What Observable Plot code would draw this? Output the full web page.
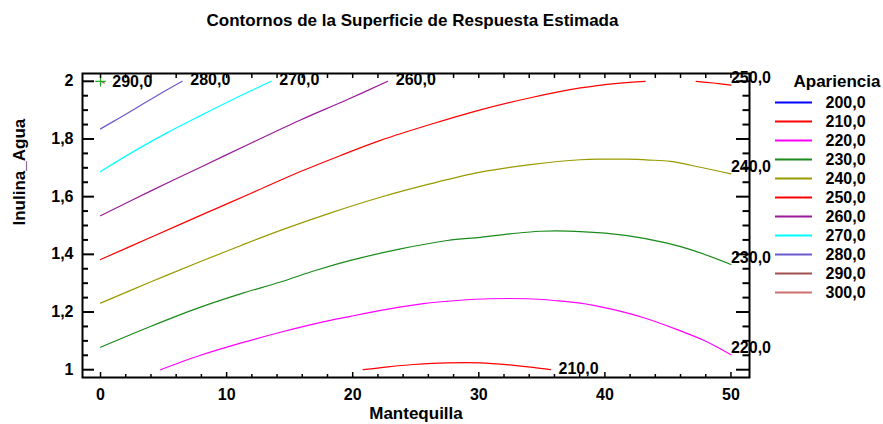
<!DOCTYPE html>
<html><head><meta charset="utf-8">
<script src="https://cdn.jsdelivr.net/npm/d3@7"></script>
<script src="https://cdn.jsdelivr.net/npm/@observablehq/plot@0.6"></script>
<style>
body{margin:0;background:#fff;}
#wrap{position:relative;width:883px;height:424px;font-family:"Liberation Sans",Arial,sans-serif;}
#legend{position:absolute;left:770px;top:70px;width:113px;height:240px;}
</style></head><body><div id="wrap"><div id="main"></div><div id="legend"></div></div>
<script>
// ---- data ----
const xTicks = [0, 10, 20, 30, 40, 50];
const xMinor = [2, 4, 6, 8, 12, 14, 16, 18, 22, 24, 26, 28, 32, 34, 36, 38, 42, 44, 46, 48];
const yTicks = [1, 1.2, 1.4, 1.6, 1.8, 2];
const yMinor = [1.05, 1.1, 1.15, 1.25, 1.3, 1.35, 1.45, 1.5, 1.55, 1.65, 1.7, 1.75, 1.85, 1.9, 1.95];
const legendLevels = [200, 210, 220, 230, 240, 250, 260, 270, 280, 290, 300];
const levelColors = ["#0000ff", "#ff0000", "#ff00ff", "#1a8a1a", "#999900", "#ff0000", "#9a1a9a", "#00ffff", "#6a5acd", "#a05050", "#cc7070"];

const c210 = [[20.83,1.0],[22.8,1.010],[24.85,1.018],[27.5,1.024],[30.13,1.024],[32.77,1.015],[34.3,1.008],[35.69,1.0]];
const c220 = [[4.76,1.0],[7.93,1.050],[11.1,1.092],[14.27,1.130],[17.05,1.160],[19.83,1.185],[22.7,1.209],[25.6,1.229],[28.3,1.240],[30.93,1.246],[33.84,1.246],[36,1.240],[38.06,1.231],[40.6,1.209],[43.09,1.180],[45.73,1.139],[47.84,1.102],[50,1.052]];
const c230 = [[0,1.078],[3.96,1.150],[7.93,1.217],[11.1,1.263],[14.27,1.304],[17.1,1.345],[19.83,1.379],[23.7,1.418],[27.5,1.448],[30.13,1.459],[32.5,1.471],[34.9,1.480],[38.06,1.479],[41.77,1.465],[44.94,1.439],[47.05,1.413],[50,1.365]];
const c240 = [[0,1.231],[3.96,1.304],[7.93,1.375],[11.1,1.430],[14.27,1.483],[18.2,1.543],[22.2,1.598],[26.2,1.645],[30.13,1.685],[34.1,1.711],[38.06,1.728],[39.9,1.730],[41.77,1.730],[43.5,1.727],[45.2,1.722],[47.58,1.702],[50,1.679]];
const c250a = [[0,1.382],[4,1.459],[7.93,1.535],[11.9,1.611],[15.86,1.687],[19,1.742],[22.2,1.795],[26.2,1.851],[30.13,1.901],[34.1,1.943],[38.06,1.977],[41,1.993],[43.2,2.0]];
const c250b = [[47.24,2.0],[48.6,1.994],[50,1.987]];
const c260 = [[0,1.534],[4,1.620],[7.93,1.702],[12,1.787],[15.86,1.866],[19.5,1.935],[22.78,2.0]];
const c270 = [[0,1.687],[2.64,1.757],[5.3,1.822],[7.93,1.881],[10.5,1.937],[13.54,2.0]];
const c280 = [[0,1.835],[1.5,1.873],[3,1.912],[4.5,1.951],[6.48,2.0]];
const c290 = [[0,2.0],[0.3,1.994]];
const optimo = [[0, 2.0]];

const curvas = [
  {nivel: 210, pts: c210}, {nivel: 220, pts: c220}, {nivel: 230, pts: c230},
  {nivel: 240, pts: c240}, {nivel: 250, pts: c250a}, {nivel: 250, pts: c250b},
  {nivel: 260, pts: c260}, {nivel: 270, pts: c270}, {nivel: 280, pts: c280},
  {nivel: 290, pts: c290}
];

// ---- helpers ----
const colorOf = lv => levelColors[legendLevels.indexOf(lv)];
const fmtLevel = lv => d3.format(".1f")(lv).replace(".", ",");
const fmtNum = d => String(d).replace(".", ",");

// label anchors: end of the last segment of each level
const anchors = new Map();
for (const c of curvas) anchors.set(c.nivel, c.pts[c.pts.length - 1]);
const etiquetas = Array.from(anchors, ([nivel, p]) => ({nivel, x: p[0], y: p[1]}));
const rightLab = etiquetas.filter(d => d.x >= 49.9);
const otherLab = etiquetas.filter(d => d.x < 49.9);

const W = 883, H = 424, mL = 82, mR = 134, mT = 73, mB = 47;
const fw = W - mL - mR, fh = H - mT - mB;
const font = '"Liberation Sans", Arial, sans-serif';

const chart = Plot.plot({
  width: W, height: H, marginLeft: mL, marginRight: mR, marginTop: mT, marginBottom: mB,
  style: {fontFamily: font, background: "white", overflow: "visible"},
  x: {domain: [-1.43, 51.47]},
  y: {domain: [0.973, 2.027]},
  marks: [
    ...curvas.map(c => Plot.line(c.pts, {x: d => d[0], y: d => d[1], stroke: colorOf(c.nivel), strokeWidth: 1.2, curve: "catmull-rom"})),
    Plot.dot(optimo, {x: d => d[0], y: d => d[1], symbol: "plus", r: 3.5, stroke: "#22aa22", strokeWidth: 1.2}),
    // ticks (inward)
    Plot.tickY(yTicks, {y: d => d, insetRight: fw - 12, strokeWidth: 2}),
    Plot.tickY(yMinor, {y: d => d, insetRight: fw - 6, strokeWidth: 2}),
    Plot.tickY(yTicks, {y: d => d, insetLeft: fw - 13, strokeWidth: 2}),
    Plot.tickY(yMinor, {y: d => d, insetLeft: fw - 6.5, strokeWidth: 2}),
    Plot.tickX(xTicks, {x: d => d, insetTop: fh - 5, strokeWidth: 1.5}),
    Plot.tickX(xMinor, {x: d => d, insetTop: fh - 3, strokeWidth: 1.5}),
    Plot.tickX(xTicks.concat(xMinor), {x: d => d, insetBottom: fh - 5, strokeWidth: 1.5}),
    Plot.frame({stroke: "black", strokeWidth: 2}),
    // tick labels
    Plot.axisY({ticks: yTicks, anchor: "left", tickSize: 0, tickPadding: 9, tickFormat: fmtNum, fontSize: 16, fontWeight: "bold", label: null}),
    Plot.axisX({ticks: xTicks, anchor: "bottom", tickSize: 0, tickPadding: 11, tickFormat: fmtNum, fontSize: 16, fontWeight: "bold", label: null}),
    // contour labels
    Plot.text(rightLab, {x: "x", y: "y", text: d => fmtLevel(d.nivel), textAnchor: "start", lineAnchor: "middle", dx: 0, dy: -7, fontSize: 16, fontWeight: "bold", fill: "black"}),
    Plot.text(otherLab, {x: "x", y: "y", text: d => fmtLevel(d.nivel), textAnchor: "start", lineAnchor: "middle", dx: 8, dy: -1, fontSize: 16, fontWeight: "bold", fill: "black"}),
    // titles
    Plot.text(["Contornos de la Superficie de Respuesta Estimada"], {frameAnchor: "top", lineAnchor: "middle", dx: -3.5, dy: -53, fontSize: 17, fontWeight: "bold"}),
    Plot.text(["Mantequilla"], {frameAnchor: "bottom", lineAnchor: "middle", dy: 36, fontSize: 17, fontWeight: "bold"}),
    Plot.text(["Inulina_Agua"], {frameAnchor: "left", lineAnchor: "middle", dx: -63, rotate: -90, fontSize: 17, fontWeight: "bold"})
  ]
});
document.getElementById("main").appendChild(chart);

const legend = Plot.plot({
  width: 113, height: 240, marginTop: 0, marginBottom: 0, marginLeft: 0, marginRight: 0,
  style: {fontFamily: font, background: "transparent", overflow: "visible"},
  x: {domain: [0, 1], range: [5, 42], axis: null},
  y: {type: "point", domain: legendLevels.map(String), range: [30.7, 222.3], padding: 0, axis: null},
  color: {type: "identity"},
  marks: [
    Plot.ruleY(legendLevels, {y: d => String(d), x1: 0, x2: 1, stroke: d => colorOf(d), strokeWidth: 2}),
    Plot.text(legendLevels, {y: d => String(d), x: 1, dx: 13, text: d => fmtLevel(d), textAnchor: "start", lineAnchor: "middle", fontSize: 16, fontWeight: "bold", fill: "black"}),
    Plot.text(["Apariencia"], {frameAnchor: "top-left", lineAnchor: "middle", dx: 23, dy: 10.7, textAnchor: "start", fontSize: 17, fontWeight: "bold", fill: "black"})
  ]
});
document.getElementById("legend").appendChild(legend);
</script></body></html>
